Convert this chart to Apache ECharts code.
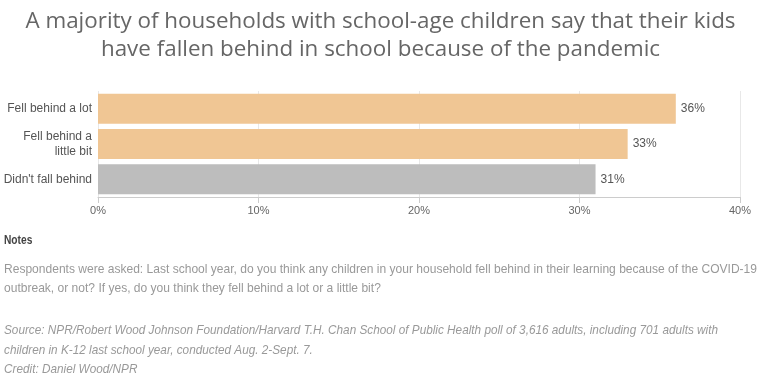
<!DOCTYPE html>
<html><head><meta charset="utf-8">
<script src="https://cdn.jsdelivr.net/npm/echarts@6/dist/echarts.min.js"></script>
<style>html,body{margin:0;padding:0;background:#fff}#c{width:761px;height:383px}</style>
</head><body><div id="c"></div>
<script>
const categories = ["Fell behind a lot", "Fell behind a\nlittle bit", "Didn't fall behind"];
const values = [36, 33, 31];
const barColors = ["#f0c694", "#f0c694", "#bdbdbd"];
const xTicks = [0, 10, 20, 30, 40];

const titleText = "A majority of households with school-age children say that their kids\nhave fallen behind in school because of the pandemic";
const notesHead = "Notes";
const notesLines = ["Respondents were asked: Last school year, do you think any children in your household fell behind in their learning because of the COVID-19", "outbreak, or not? If yes, do you think they fell behind a lot or a little bit?"];
const sourceLines = ["Source: NPR/Robert Wood Johnson Foundation/Harvard T.H. Chan School of Public Health poll of 3,616 adults, including 701 adults with", "children in K-12 last school year, conducted Aug. 2-Sept. 7.", "Credit: Daniel Wood/NPR"];

const baseFont = "'Liberation Sans', Arial, sans-serif";
const fs = 13;
const mctx = document.createElement('canvas').getContext('2d');
mctx.font = fs + "px " + baseFont;
const notesScale = 753 / mctx.measureText(notesLines[0]).width;
mctx.font = "italic " + fs + "px " + baseFont;
const sourceScale = 714 / mctx.measureText(sourceLines[0]).width;

const chart = echarts.init(document.getElementById('c'), null, {renderer: 'canvas'});
chart.setOption({
  animation: false,
  title: {
    text: titleText, left: 'center', top: 3,
    textStyle: {fontFamily: '"Open Sans", sans-serif', fontSize: 22.4, fontWeight: 'normal', color: '#666', lineHeight: 28}
  },
  grid: {left: 98, right: 21, top: 91, bottom: 186, containLabel: false},
  xAxis: {
    type: 'value', min: xTicks[0], max: xTicks[xTicks.length - 1], interval: 10,
    axisLine: {show: true, lineStyle: {color: '#ccc'}},
    axisTick: {show: true, length: 6, lineStyle: {color: '#ccc'}},
    splitLine: {show: true, lineStyle: {color: '#e8e8e8'}},
    axisLabel: {formatter: v => v + '%', color: '#666', fontSize: 11, fontFamily: baseFont, margin: 8}
  },
  yAxis: {
    type: 'category', data: categories, inverse: true,
    axisLine: {show: false}, axisTick: {show: false},
    axisLabel: {color: '#555', fontSize: 12, fontFamily: baseFont, margin: 6, lineHeight: 15}
  },
  series: [{
    type: 'bar', barCategoryGap: '15%',
    data: values.map((v, i) => ({value: v, itemStyle: {color: barColors[i]}})),
    label: {show: true, position: 'right', distance: 5, formatter: p => p.value + '%', color: '#555', fontSize: 12, fontFamily: baseFont}
  }],
  graphic: [
    {type: 'text', x: 4, y: 235, scaleX: 0.85, style: {text: notesHead, font: "bold 12px " + baseFont, fill: '#444'}},
    {type: 'text', x: 4, y: 260, scaleX: notesScale, style: {text: notesLines.join('\n'), font: fs + "px " + baseFont, fill: '#999', lineHeight: 19}},
    {type: 'text', x: 4, y: 321, scaleX: sourceScale, style: {text: sourceLines.join('\n'), font: "italic " + fs + "px " + baseFont, fill: '#999', lineHeight: 19.5}}
  ]
});
</script></body></html>
